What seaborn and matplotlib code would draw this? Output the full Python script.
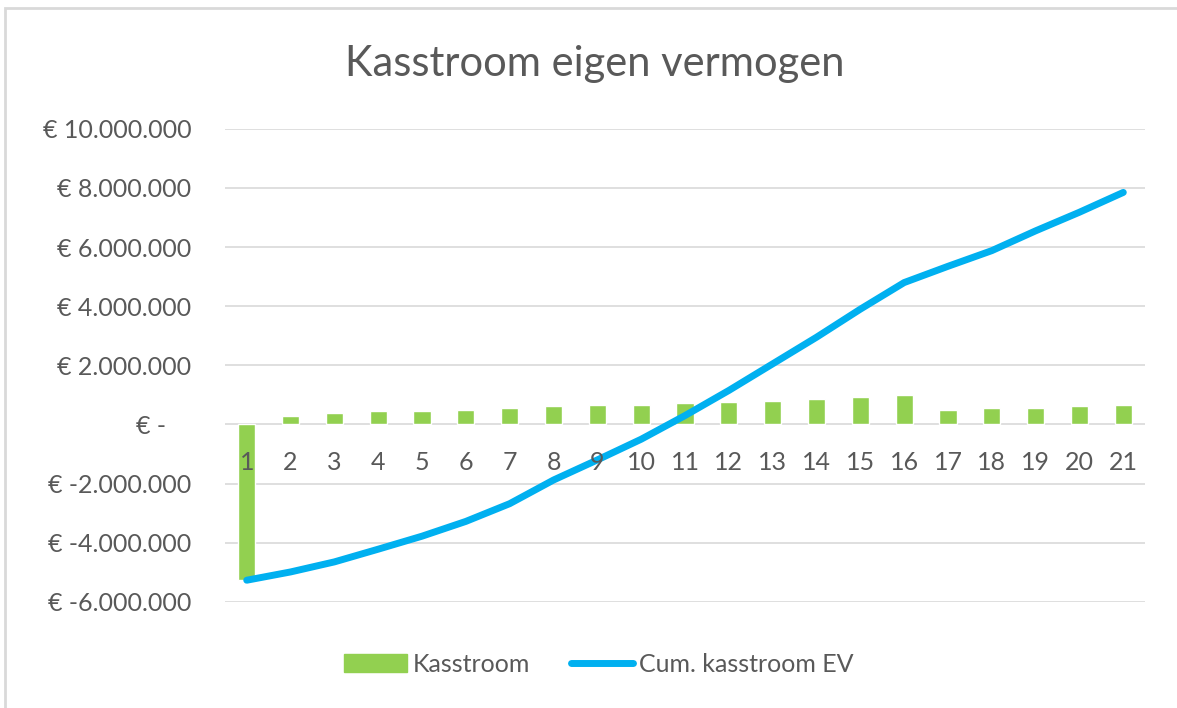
import numpy as np
import pandas as pd
import matplotlib
matplotlib.use('Agg')
import matplotlib.pyplot as plt
import matplotlib.patches as mpatches
from matplotlib.lines import Line2D
from matplotlib.ticker import FuncFormatter
import seaborn as sns

# Data
years = list(range(1, 22))
kasstroom = [-5250000, 290000, 390000, 450000, 450000, 490000, 550000, 610000,
             660000, 660000, 710000, 760000, 810000, 870000, 920000, 980000,
             490000, 550000, 550000, 610000, 660000]
cum_kasstroom = [-5270000, -4990000, -4650000, -4220000, -3780000, -3280000,
                 -2680000, -1880000, -1200000, -500000, 300000, 1150000,
                 2050000, 2950000, 3900000, 4800000, 5350000, 5880000,
                 6550000, 7180000, 7850000]
y_ticks = [-6000000, -4000000, -2000000, 0, 2000000, 4000000, 6000000,
           8000000, 10000000]

df = pd.DataFrame({'jaar': years, 'kasstroom': kasstroom, 'cum': cum_kasstroom})

green = '#92D050'
blue = '#00B0F0'
text_grey = '#595959'
grid_grey = '#D9D9D9'

sns.set_style('white')
plt.rcParams['font.family'] = ['Lato', 'DejaVu Sans']

fig = plt.figure(figsize=(11.77, 7.08), dpi=100)
ax = fig.add_axes([0.191, 0.150, 0.782, 0.668])

# gridlines drawn by hand so they sit behind the bars, tick labels stay on top
for yt in y_ticks:
    ax.axhline(yt, color=grid_grey, linewidth=1.2, zorder=0)

sns.barplot(data=df, x='jaar', y='kasstroom', native_scale=True, color=green,
            saturation=1, width=0.39, ax=ax, zorder=2)
sns.lineplot(data=df, x='jaar', y='cum', color=blue, linewidth=5,
             solid_capstyle='round', ax=ax, zorder=3)

ax.set_xlim(0.5, 21.5)
ax.set_ylim(-6000000, 10000000)
ax.set_yticks(y_ticks)
ax.set_xticks(years)
ax.set_xticklabels([str(y) for y in years])


def euro(v, pos):
    if v == 0:
        return '€ -    '
    s = f'{abs(v):,.0f}'.replace(',', '.')
    return f'€ -{s}' if v < 0 else f'€ {s}'


ax.yaxis.set_major_formatter(FuncFormatter(euro))
ax.grid(False)
ax.set_axisbelow(False)
for side in ['left', 'right', 'top', 'bottom']:
    ax.spines[side].set_visible(False)
ax.tick_params(axis='x', length=0, pad=19, labelsize=18, labelcolor=text_grey)
ax.tick_params(axis='y', length=0, pad=24, labelsize=18, labelcolor=text_grey)
ax.xaxis.set_zorder(4)
ax.set_xlabel('')
ax.set_ylabel('')

# move x tick labels to the zero line
ax.spines['bottom'].set_position(('data', 0))

fig.text(0.505, 0.91, 'Kasstroom eigen vermogen', ha='center', va='center',
         fontsize=30, color=text_grey)

handles = [mpatches.Patch(color=green, label='Kasstroom'),
           Line2D([0], [0], color=blue, linewidth=5, solid_capstyle='round',
                  label='Cum. kasstroom EV')]
fig.legend(handles=handles, loc='center', bbox_to_anchor=(0.509, 0.062), ncol=2,
           frameon=False, fontsize=18, labelcolor=text_grey, handlelength=2.5,
           handletextpad=0.25, columnspacing=1.6)

# light chart border
fig.add_artist(mpatches.Rectangle((0.004, -0.05), 1.2, 0.0387 + 1.0,
                                  transform=fig.transFigure, fill=False,
                                  edgecolor=grid_grey, linewidth=2))

fig.savefig('out.png', dpi=100, facecolor='white')
